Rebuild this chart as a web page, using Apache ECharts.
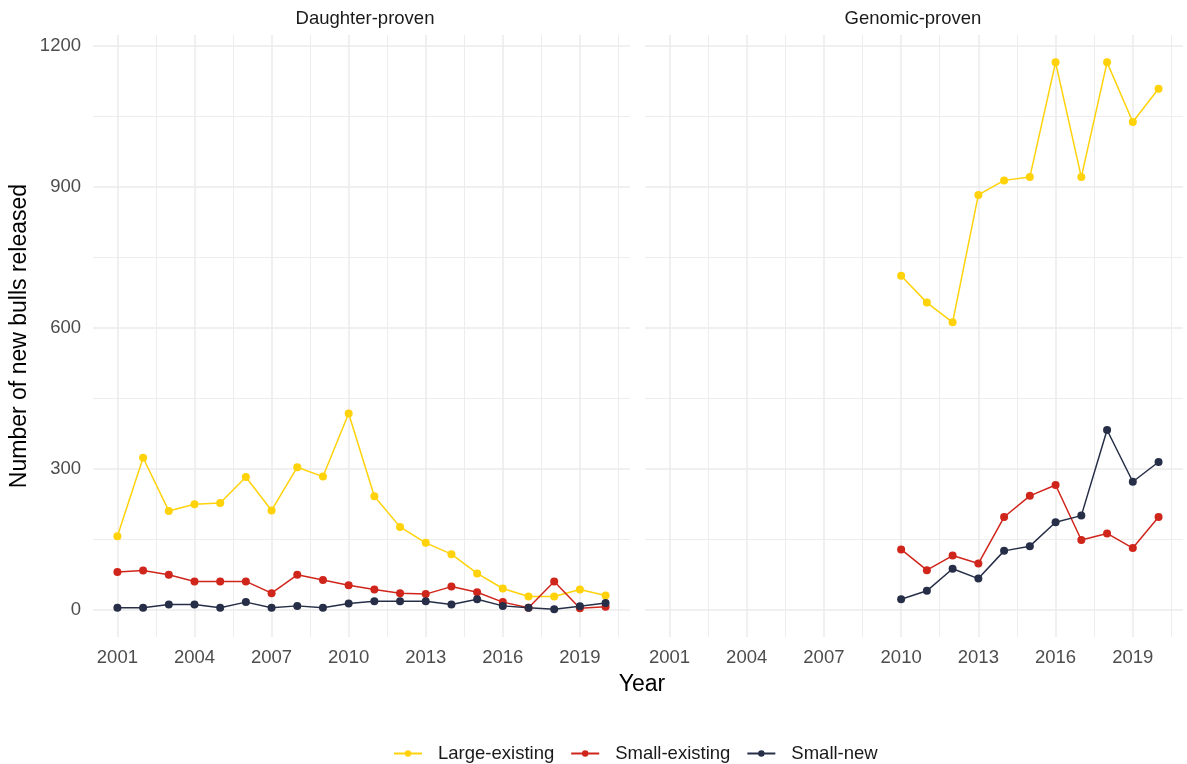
<!DOCTYPE html>
<html>
<head>
<meta charset="utf-8">
<script src="https://cdn.jsdelivr.net/npm/echarts@6/dist/echarts.min.js"></script>
<style>
  html, body { margin: 0; padding: 0; background: #fff; }
  #main { width: 1187px; height: 764px; }
</style>
</head>
<body>
<div id="main"></div>
<script>
// data
var panels = ['Daughter-proven', 'Genomic-proven'];
var seriesNames = ['Large-existing', 'Small-existing', 'Small-new'];
var colors = ['#FFD20A', '#D0251B', '#262F47'];

var dpYears = [2001, 2002, 2003, 2004, 2005, 2006, 2007, 2008, 2009, 2010,
               2011, 2012, 2013, 2014, 2015, 2016, 2017, 2018, 2019, 2020];
var dpLarge    = [156, 323, 210, 224, 227, 282, 211, 303, 283, 417, 241, 176, 142, 118, 77, 45, 28, 28, 43, 30];
var dpSmallEx  = [80, 83, 74, 60, 60, 60, 35, 74, 63, 52, 43, 35, 33, 49, 37, 16, 4, 60, 3, 6];
var dpSmallNew = [4, 4, 11, 11, 4, 16, 4, 8, 4, 13, 18, 18, 18, 11, 22, 8, 4, 1, 7, 14];

var gpYears = [2010, 2011, 2012, 2013, 2014, 2015, 2016, 2017, 2018, 2019, 2020];
var gpLarge    = [710, 653, 611, 882, 913, 920, 1164, 920, 1164, 1037, 1108];
var gpSmallEx  = [128, 84, 115, 98, 197, 242, 265, 148, 162, 131, 197];
var gpSmallNew = [22, 40, 87, 66, 125, 135, 186, 200, 382, 272, 314];

var xTicks = [2001, 2004, 2007, 2010, 2013, 2016, 2019];
var xMinor = [2002.5, 2005.5, 2008.5, 2011.5, 2014.5, 2017.5, 2020.5];
var yTicks = [0, 300, 600, 900, 1200];
var yMinor = [150, 450, 750, 1050];

function pairs(xs, ys) {
    return xs.map(function (x, i) { return [x, ys[i]]; });
}
function plain(v) { return String(v); }

var gridCol = '#EBEBEB';
var lblColor = '#4D4D4D';
var font = 'Arial, "Liberation Sans", sans-serif';

var grids = [
    { left: 93, top: 35, width: 537, height: 602 },
    { left: 645, top: 35, width: 538, height: 602 }
];

var xAxes = [], yAxes = [];
[0, 1].forEach(function (g) {
    // major
    xAxes.push({
        type: 'value', gridIndex: g, min: 2000.05, max: 2020.95,
        axisLine: { show: false },
        axisTick: { show: false, customValues: xTicks },
        axisLabel: { customValues: xTicks, formatter: plain, color: lblColor, fontSize: 18.5, fontFamily: font, margin: 11 },
        splitLine: { show: true, lineStyle: { color: gridCol, width: 1.5 } }
    });
    // minor
    xAxes.push({
        type: 'value', gridIndex: g, min: 2000.05, max: 2020.95,
        axisLine: { show: false },
        axisTick: { show: false, customValues: xMinor },
        axisLabel: { show: false, customValues: xMinor },
        splitLine: { show: true, lineStyle: { color: gridCol, width: 0.9 } }
    });
    yAxes.push({
        type: 'value', gridIndex: g, min: -58.2, max: 1222.2,
        axisLine: { show: false },
        axisTick: { show: false, customValues: yTicks },
        axisLabel: { show: g === 0, customValues: yTicks, formatter: plain, color: lblColor, fontSize: 18.5, fontFamily: font, margin: 12 },
        splitLine: { show: true, lineStyle: { color: gridCol, width: 1.5 } }
    });
    yAxes.push({
        type: 'value', gridIndex: g, min: -58.2, max: 1222.2,
        axisLine: { show: false },
        axisTick: { show: false, customValues: yMinor },
        axisLabel: { show: false, customValues: yMinor },
        splitLine: { show: true, lineStyle: { color: gridCol, width: 0.9 } }
    });
});

var panelData = [
    [pairs(dpYears, dpLarge), pairs(dpYears, dpSmallEx), pairs(dpYears, dpSmallNew)],
    [pairs(gpYears, gpLarge), pairs(gpYears, gpSmallEx), pairs(gpYears, gpSmallNew)]
];

var series = [];
[0, 1].forEach(function (g) {
    seriesNames.forEach(function (name, k) {
        series.push({
            name: name,
            type: 'line',
            xAxisIndex: g * 2,
            yAxisIndex: g * 2,
            data: panelData[g][k],
            symbol: 'circle',
            symbolSize: 8,
            lineStyle: { width: 1.5, color: colors[k] },
            itemStyle: { color: colors[k] },
            emphasis: { disabled: true },
            animation: false
        });
    });
});

var myChart = echarts.init(document.getElementById('main'));

option = {
    backgroundColor: '#fff',
    color: colors,
    grid: grids,
    xAxis: xAxes,
    yAxis: yAxes,
    legend: {
        data: seriesNames,
        top: 739,
        left: 388,
        itemWidth: 28,
        itemHeight: 8,
        itemGap: 16,
        textStyle: { fontSize: 18.5, color: '#1a1a1a', fontFamily: font, padding: [0, 0, 0, 11] }
    },
    graphic: [
        { type: 'text', x: 365, y: 19, style: { text: panels[0], fill: '#1a1a1a', font: '18.5px Arial, "Liberation Sans", sans-serif', textAlign: 'center', textVerticalAlign: 'middle' } },
        { type: 'text', x: 913, y: 19, style: { text: panels[1], fill: '#1a1a1a', font: '18.5px Arial, "Liberation Sans", sans-serif', textAlign: 'center', textVerticalAlign: 'middle' } },
        { type: 'text', x: 642, y: 685, style: { text: 'Year', fill: '#000', font: '23px Arial, "Liberation Sans", sans-serif', textAlign: 'center', textVerticalAlign: 'middle' } },
        { type: 'text', x: 20, y: 336, rotation: Math.PI / 2, style: { text: 'Number of new bulls released', fill: '#000', font: '23px Arial, "Liberation Sans", sans-serif', textAlign: 'center', textVerticalAlign: 'middle' } }
    ],
    series: series
};

myChart.setOption(option);
</script>
</body>
</html>
